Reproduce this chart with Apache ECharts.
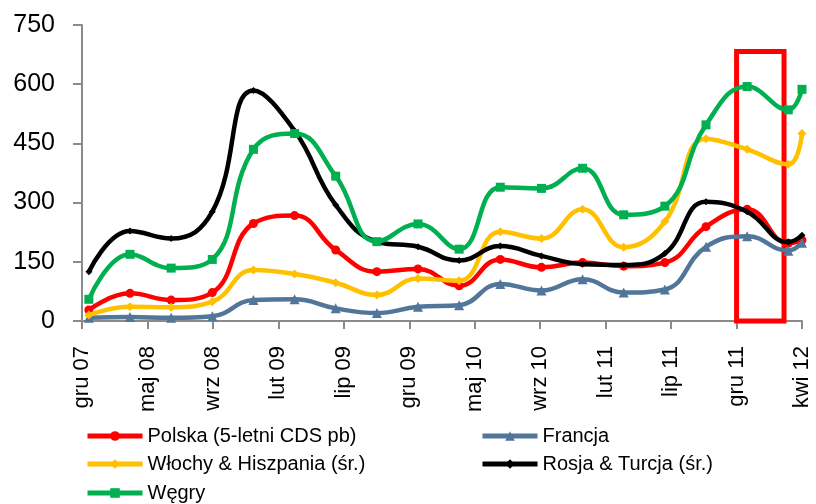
<!DOCTYPE html>
<html><head><meta charset="utf-8">
<script src="https://cdn.jsdelivr.net/npm/echarts@6/dist/echarts.min.js"></script>
<style>html,body{margin:0;padding:0;background:#fff}#c{width:816px;height:504px}</style>
</head><body><div id="c"></div>
<script>
// Observation dates (quarterly, plus the last month)
const dates = ['2007-12','2008-03','2008-06','2008-09','2008-12','2009-03','2009-06','2009-09','2009-12','2010-03',
               '2010-06','2010-09','2010-12','2011-03','2011-06','2011-09','2011-12','2012-03','2012-04'];
const tickLabels = ['gru 07','maj 08','wrz 08','lut 09','lip 09','gru 09','maj 10','wrz 10','lut 11','lip 11','gru 11','kwi 12'];
const yTicks = [0, 150, 300, 450, 600, 750];

const polska  = [28, 70, 53, 72, 247, 267, 180, 125, 132, 89, 156, 136, 148, 139, 148, 239, 283, 197, 205];
const francja = [8, 10, 8, 12, 53, 55, 32, 20, 36, 40, 94, 77, 106, 72, 80, 188, 215, 178, 198];
const wlochy  = [15, 36, 35, 49, 129, 119, 97, 66, 108, 102, 226, 209, 283, 187, 252, 462, 435, 397, 475];
const rosja   = [125, 228, 209, 277, 584, 482, 294, 201, 188, 153, 190, 165, 144, 142, 171, 302, 277, 200, 217];
const wegry   = [55, 169, 134, 156, 435, 475, 367, 201, 246, 182, 339, 336, 387, 269, 291, 497, 594, 535, 587];

const seriesNames = ['Polska (5-letni CDS pb)', 'Francja', 'Włochy & Hiszpania (śr.)', 'Rosja & Turcja (śr.)', 'Węgry'];
// highlighted period (months since 1 Dec 2007) and its value ceiling
const highlightMonths = [47.73, 51.19];
const highlightMax = 683;

// axis: months 0 .. 52.5 mapped to 11 equal label intervals
const axisMonths = 52.5;
const nInt = tickLabels.length - 1;
function monthsOf(d) { const [y, m] = d.split('-').map(Number); return (y - 2007) * 12 + (m - 12) + 0.5; }
function toAxis(mo) { return mo * nInt / axisMonths; }
const xs = dates.map(d => toAxis(monthsOf(d)));
const pair = arr => arr.map((v, i) => [xs[i], v]);

const FONT = "'Liberation Sans', Arial, sans-serif";
const colors = ['#FF0000', '#52759A', '#FFC000', '#000000', '#00B050'];
const symbols = ['circle', 'triangle', 'diamond', 'diamond', 'rect'];
const symSizes = [9, 10, 9, 7, 9];
const values = [polska, francja, wlochy, rosja, wegry];

const series = values.map((arr, i) => ({
  name: seriesNames[i], type: 'line', data: pair(arr), smooth: 0.45,
  symbol: symbols[i], symbolSize: symSizes[i], showSymbol: true,
  lineStyle: { color: colors[i], width: 4.5 },
  itemStyle: { color: colors[i], borderWidth: 0 },
  z: 2 + i
}));
series.push({
  type: 'line', data: [], z: 20, silent: true,
  markArea: {
    silent: true,
    itemStyle: { color: 'rgba(0,0,0,0)', borderColor: '#FF0000', borderWidth: 5 },
    data: [[{ xAxis: toAxis(highlightMonths[0]), yAxis: 0 }, { xAxis: toAxis(highlightMonths[1]), yAxis: highlightMax }]]
  }
});

// legend slots: [series index, left, top]
const legendSlots = [[0, 80, 421], [2, 80, 449], [4, 80, 478], [1, 475, 421], [3, 475, 449]];
const legends = legendSlots.map(([si, l, t]) => ({
  left: l, top: t, data: [seriesNames[si]], itemWidth: 55, itemHeight: 12, selectedMode: false,
  lineStyle: { width: 5 },
  textStyle: { fontFamily: FONT, fontSize: 20, color: '#000' }
}));

const chart = echarts.init(document.getElementById('c'), null, { renderer: 'canvas' });
chart.setOption({
  animation: false,
  backgroundColor: '#fff',
  color: colors,
  grid: { left: 82, right: 14, top: 25, bottom: 183, containLabel: false },
  legend: legends,
  xAxis: {
    type: 'value', min: 0, max: nInt, interval: 1,
    splitLine: { show: false },
    axisLine: { lineStyle: { color: '#8A8A8A', width: 2 } },
    axisTick: { inside: false, length: 8, lineStyle: { color: '#8A8A8A', width: 2 } },
    axisLabel: { rotate: 90, margin: 25, fontFamily: FONT, fontSize: 22, color: '#000',
      formatter: v => tickLabels[Math.round(v)] || '' }
  },
  yAxis: {
    type: 'value', min: yTicks[0], max: yTicks[yTicks.length - 1], interval: yTicks[1] - yTicks[0],
    splitLine: { show: false },
    axisLine: { show: true, lineStyle: { color: '#8A8A8A', width: 2 } },
    axisTick: { show: true, inside: false, length: 9, lineStyle: { color: '#8A8A8A', width: 2 } },
    axisLabel: { margin: 27, fontFamily: FONT, fontSize: 25, color: '#000' }
  },
  series: series
});
</script></body></html>
